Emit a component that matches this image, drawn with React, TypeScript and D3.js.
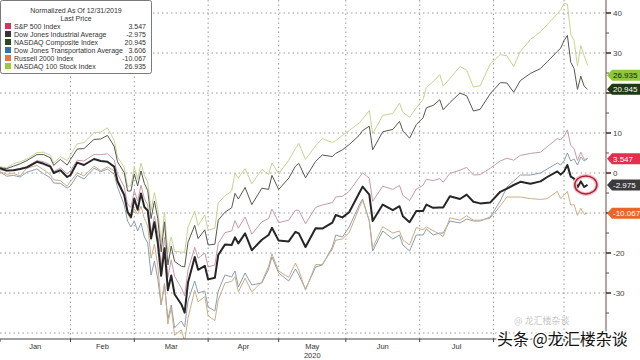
import React from 'react';
import * as d3 from 'd3';

// trading-day index (0 = Jan 2, 2020)
const days = [0,2,4,6,8,11,13,15,16,18,20,
21,23,25,28,30,32,34,35,37,38,39,
40,41,42,43,44,45,46,47,48,49,50,51,52,54,55,56,58,59,61,
62,64,65,67,69,70,71,73,75,78,80,81,
83,86,88,89,91,94,96,99,100,102,
104,107,108,110,111,114,117,119,120,122,124,
126,127,129,131,132,134,137,139,141,143,146,
149,151,153,155,158,161,163,166,167,
168,169,170,171,172,173,174,175];

const spx = [0.8,0.5,0.7,1.1,1.6,3.1,2.8,2.0,0.4,1.3,-0.2,
0.6,3.2,3.0,4.6,4.6,4.8,3.3,-0.2,-3.5,-7.8,-8.6,
-4.4,-7.0,-3.1,-6.4,-8.0,-15.0,-10.8,-15.1,-23.2,-16.1,-26.1,-21.7,-25.8,-28.7,-30.7,-24.2,-18.6,-21.3,-20.0,
-23.5,-23.0,-17.6,-14.9,-14.5,-11.9,-13.8,-11.0,-15.3,-12.2,-11.4,-9.0,
-12.4,-11.8,-9.3,-9.3,-12.7,-8.6,-8.0,-7.4,-6.0,-5.8,
-4.6,-1.1,0.05,-1.3,-7.1,-3.3,-4.1,-3.1,-5.6,-6.9,-4.0,
-3.1,-1.6,-1.9,-1.4,-2.3,-0.1,0.7,1.4,-0.5,-0.4,1.2,
3.0,3.7,3.2,4.4,4.9,5.2,6.6,8.6,8.3,
9.2,10.8,6.9,6.1,3.1,5.2,3.4,3.547];

const dji = [1.2,0.6,0.7,1.0,1.4,2.8,2.3,1.6,0.0,0.7,-1.0,
-0.5,2.6,2.0,3.5,3.0,2.8,1.6,-2.0,-5.5,-9.7,-11.0,
-6.4,-9.2,-5.1,-8.5,-9.4,-16.4,-12.3,-17.5,-25.7,-18.8,-29.3,-25.6,-30.3,-32.8,-34.9,-27.4,-21.0,-24.2,-23.2,
-26.6,-26.2,-20.5,-17.9,-18.0,-16.1,-17.6,-15.1,-19.3,-16.7,-15.5,-13.7,
-16.9,-17.1,-14.7,-15.1,-18.5,-13.8,-13.9,-12.4,-10.5,-11.1,
-9.8,-5.0,-3.4,-5.4,-12.0,-7.9,-9.3,-8.3,-10.8,-12.3,-9.5,
-9.5,-7.9,-8.7,-8.6,-8.6,-5.8,-6.5,-5.4,-7.2,-7.6,-7.4,
-4.7,-3.9,-3.0,-2.2,-2.7,-2.1,-1.0,0.4,-0.4,
0.4,2.0,-0.9,-1.4,-3.6,-2.1,-3.5,-2.975];

const ccmp = [1.3,1.1,1.7,2.3,3.1,4.6,4.6,3.8,1.9,3.4,2.0,
3.4,6.0,6.1,8.4,8.5,9.4,6.7,2.8,0.1,-4.5,-4.5,
-0.2,-3.2,0.5,-2.6,-4.4,-11.4,-7.0,-11.4,-19.7,-12.2,-23.0,-18.3,-22.1,-23.3,-23.5,-17.3,-13.1,-16.4,-14.2,
-18.0,-17.8,-11.8,-9.8,-8.7,-5.1,-6.5,-3.6,-7.9,-3.8,-4.1,-0.6,
-4.1,-1.3,1.7,2.4,-1.2,2.9,4.5,4.1,4.9,5.8,
7.1,9.4,10.6,11.7,5.8,10.3,10.9,12.9,10.5,8.7,12.1,
13.8,16.3,16.9,18.3,15.8,17.6,20.0,19.3,15.5,15.9,19.8,
22.6,22.5,20.2,23.1,24.9,26.1,27.8,30.4,31.2,
33.1,34.4,27.7,26.1,20.9,24.2,21.7,20.945];

const djt = [0.3,-0.8,-0.6,-1.0,0.2,1.0,-0.2,-1.2,-2.5,-2.6,-3.8,
-3.2,-0.6,-1.5,1.2,0.3,1.0,-0.3,-3.5,-8.0,-12.0,-13.5,
-12.0,-14.5,-12.5,-16.0,-17.5,-25.5,-22.0,-26.5,-33.0,-28.0,-36.5,-33.0,-38.7,-37.0,-38.5,-32.0,-27.0,-30.0,-29.5,
-33.5,-34.5,-29.5,-25.5,-26.0,-24.5,-28.5,-25.0,-28.0,-27.5,-24.0,-21.0,
-25.0,-27.0,-24.0,-25.5,-29.0,-23.5,-23.0,-18.5,-15.5,-16.0,
-13.5,-8.0,-6.5,-12.0,-19.5,-14.5,-16.5,-15.5,-18.0,-19.5,-15.5,
-15.5,-14.0,-15.5,-15.0,-15.0,-12.0,-12.5,-11.5,-12.0,-12.0,-11.0,
-7.0,-3.5,-2.0,-0.5,-0.5,0.0,1.0,2.5,2.0,
3.0,5.0,3.0,3.5,2.0,4.0,3.0,3.606];

const rty = [0.3,-0.3,-0.1,-0.7,1.2,1.9,0.8,-0.4,-1.7,-1.9,-3.3,
-2.1,0.0,-0.7,1.7,0.6,1.5,0.6,-2.4,-5.7,-10.3,-11.5,
-9.0,-10.3,-8.3,-11.4,-13.2,-21.3,-17.8,-23.2,-32.8,-27.5,-37.8,-33.6,-40.6,-39.2,-42.1,-36.3,-29.3,-32.2,-30.9,
-35.7,-36.9,-31.8,-27.5,-27.1,-25.9,-29.7,-26.3,-29.7,-27.2,-23.3,-20.2,
-24.5,-26.1,-22.5,-24.3,-29.3,-22.9,-22.9,-19.0,-16.8,-16.5,
-14.9,-8.7,-6.8,-11.9,-18.7,-13.4,-15.0,-14.5,-16.7,-18.0,-13.6,
-14.2,-13.5,-14.4,-15.3,-15.9,-11.2,-11.8,-10.7,-11.8,-11.8,-11.3,
-8.2,-6.0,-6.0,-6.0,-6.4,-6.6,-6.4,-4.6,-6.4,
-5.6,-4.6,-8.0,-7.9,-10.6,-8.8,-10.3,-10.067];

const ndx = [1.6,1.3,2.3,2.8,3.5,5.1,5.2,4.4,2.5,4.1,3.1,
4.5,7.3,7.6,10.1,10.2,11.3,8.2,4.0,1.4,-3.4,-3.1,
1.6,-1.6,2.5,-0.6,-2.3,-9.3,-4.9,-9.1,-17.3,-9.8,-19.9,-16.0,-19.6,-19.8,-19.8,-13.5,-9.6,-13.1,-10.5,
-14.3,-13.8,-7.5,-5.7,-4.5,0.0,-1.3,1.1,-2.7,0.9,-0.4,2.5,
-0.2,3.2,6.1,7.4,3.4,6.8,8.6,7.6,8.1,9.4,
10.6,12.5,13.5,15.6,9.8,14.4,14.9,17.5,15.2,13.9,16.3,
18.4,21.4,22.8,24.6,21.7,23.6,26.6,25.7,21.5,21.8,27.2,
29.6,29.3,26.6,30.4,33.4,35.3,37.1,39.8,40.8,
42.4,42.2,34.8,33.1,26.7,31.9,29.3,26.935];

const seriesNames = ['S&P 500 Index', 'Dow Jones Industrial Average', 'NASDAQ Composite Index',
  'Dow Jones Transportation Average', 'Russell 2000 Index', 'NASDAQ 100 Stock Index'];
const lastLabels = ['3.547', '-2.975', '20.945', '3.606', '-10.067', '26.935'];
const monthStarts = [0, 21, 40, 62, 83, 103, 125, 147, 168];
const monthLabels = ['Jan', 'Feb', 'Mar', 'Apr', 'May', 'Jun', 'Jul'];
const yTicks = [40, 30, 10, 0, -20, -30];
const gridValues = [40, 30, 20, 10, 0, -10, -20, -30, -40];
const minorTicks = [35, 25, 15, 5, -5, -15, -25, -35];

const seriesData = [spx, dji, ccmp, djt, rty, ndx];
const styles = [
  { line: '#c79aaa', width: 1, swatch: '#d3345a', tag: '#e0304e', tagText: '#ffffff', nudge: 0 },
  { line: '#262626', width: 2, swatch: '#363636', tag: '#3b3b3b', tagText: '#ffffff', nudge: 0 },
  { line: '#57574e', width: 1, swatch: '#2a4a1c', tag: '#1f3914', tagText: '#ffffff', nudge: 0 },
  { line: '#8d9caf', width: 1, swatch: '#3a70a8', tag: '#3a70a8', tagText: '#ffffff', nudge: 0 },
  { line: '#c9ae86', width: 1, swatch: '#e2773a', tag: '#e8662a', tagText: '#ffffff', nudge: 0 },
  { line: '#c6d393', width: 1, swatch: '#9cc84a', tag: '#8dc63f', tagText: '#13240c', nudge: 10 },
];
const drawOrder = [5, 2, 0, 3, 4, 1];
// Transportation tag sits hidden under the S&P tag in the reference
const tagOrder = [5, 2, 0, 1, 4];

const FONT = "'Liberation Sans', Arial, sans-serif";

export default function App() {
  const W = 640, H = 360;
  const plotR = 606, plotB = 339;
  const x = d3.scaleLinear().domain([0, 180.5]).range([0, plotR]);
  const y = d3.scaleLinear().domain([-41.5, 43.25]).range([plotB, 0]);
  const line = d3.line<number>().x((_, i) => x(days[i])).y((v) => y(v));
  const lastDay = days[days.length - 1];

  const tagPath = (yc: number) => {
    const x0 = plotR + 1;
    return `M${x0},${yc} L${x0 + 5},${yc - 5.5} L${W},${yc - 5.5} L${W},${yc + 5.5} L${x0 + 5},${yc + 5.5} Z`;
  };

  return (
    <svg width={W} height={H} style={{ position: 'absolute', left: 0, top: 0, background: '#fff' }} fontFamily={FONT}>
      <defs>
        <clipPath id="plot"><rect x={0} y={0} width={plotR} height={plotB} /></clipPath>
      </defs>
      <rect x={0} y={0} width={W} height={H} fill="#fff" />
      {gridValues.map((v) => (
        <line key={'h' + v} x1={0} x2={plotR} y1={y(v)} y2={y(v)} stroke="#9a9a9a" strokeWidth={1} strokeDasharray="1.5,3" />
      ))}
      {monthStarts.slice(1).map((d) => (
        <line key={'v' + d} x1={x(d)} x2={x(d)} y1={0} y2={plotB} stroke="#9a9a9a" strokeWidth={1} strokeDasharray="1.5,3" />
      ))}
      <g clipPath="url(#plot)">
        {drawOrder.map((k) => (
          <path key={'l' + k} d={line(seriesData[k]) || ''} fill="none" stroke={styles[k].line}
            strokeWidth={styles[k].width} strokeLinejoin="round" />
        ))}
      </g>
      <ellipse cx={x(lastDay - 0.5)} cy={y(dji[dji.length - 1])} rx={11} ry={9} fill="none" stroke="#f2c0c8" strokeWidth={4} />
      <ellipse cx={x(lastDay - 0.5)} cy={y(dji[dji.length - 1])} rx={11} ry={9} fill="none" stroke="#a8243a" strokeWidth={1.5} />
      <line x1={0} x2={plotR} y1={plotB} y2={plotB} stroke="#444" strokeWidth={1} />
      {monthStarts.map((d) => (
        <line key={'xt' + d} x1={x(d)} x2={x(d)} y1={plotB} y2={plotB + 3} stroke="#444" strokeWidth={1} />
      ))}
      {monthLabels.map((m, i) => (
        <text key={m} x={x((monthStarts[i] + monthStarts[i + 1]) / 2)} y={349} textAnchor="middle" fontSize={7.5} fill="#333">{m}</text>
      ))}
      <text x={x((monthStarts[4] + monthStarts[5]) / 2)} y={358} textAnchor="middle" fontSize={7.5} fill="#333">2020</text>
      <line x1={plotR} x2={plotR} y1={0} y2={plotB} stroke="#6a4a4a" strokeWidth={1} />
      {minorTicks.map((v) => (
        <line key={'mt' + v} x1={plotR} x2={plotR + 3} y1={y(v)} y2={y(v)} stroke="#6a4a4a" strokeWidth={1} />
      ))}
      {gridValues.slice(0, 8).map((v) => (
        <line key={'yt' + v} x1={plotR} x2={plotR + 5} y1={y(v)} y2={y(v)} stroke="#4a3030" strokeWidth={1.6} />
      ))}
      {yTicks.map((v) => (
        <text key={'yl' + v} x={plotR + 7} y={y(v) + 3} fontSize={8} fill="#444">{v}</text>
      ))}
      {tagOrder.map((k) => {
        const yc = y(seriesData[k][seriesData[k].length - 1]) + styles[k].nudge;
        return (
          <g key={'tag' + k}>
            <path d={tagPath(yc)} fill={styles[k].tag} />
            <text x={plotR + 7} y={yc + 3} fontSize={8} fill={styles[k].tagText}>{lastLabels[k]}</text>
          </g>
        );
      })}
      <rect x={0.5} y={0.5} width={151} height={73} rx={2} fill="#fff" stroke="#7a7a7a" strokeWidth={1} />
      <text x={76} y={12.5} textAnchor="middle" fontSize={7} fill="#333">Normalized As Of 12/31/2019</text>
      <text x={76} y={20.5} textAnchor="middle" fontSize={7} fill="#333">Last Price</text>
      {seriesNames.map((n, i) => (
        <g key={n}>
          <rect x={5} y={23 + i * 8} width={6} height={6} fill={styles[i].swatch} />
          <text x={14} y={28.5 + i * 8} fontSize={7} fill="#333">{n}</text>
          <text x={146} y={28.5 + i * 8} textAnchor="end" fontSize={7} fill="#333">{lastLabels[i]}</text>
        </g>
      ))}
      <text x={514} y={324} fontSize={9} fill="#999" opacity={0.55} fontFamily="'Noto Sans CJK SC', sans-serif">@ 龙汇楼杂谈</text>
      <text x={497} y={345} fontSize={16} fill="#111" stroke="#fff" strokeWidth={3} paintOrder="stroke"
        fontFamily="'Noto Sans CJK SC', sans-serif">头条 @龙汇楼杂谈</text>
    </svg>
  );
}
